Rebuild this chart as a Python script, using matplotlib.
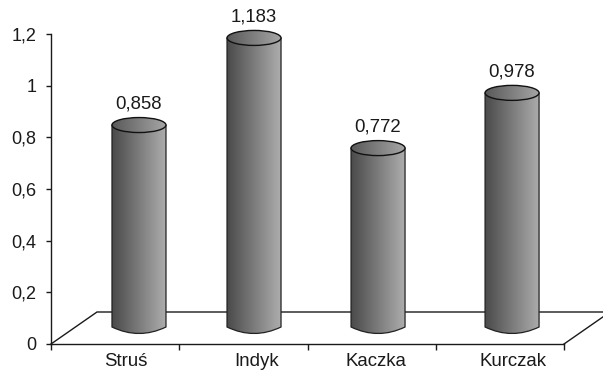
import numpy as np
import matplotlib
matplotlib.use('Agg')
import matplotlib.pyplot as plt
from matplotlib.colors import LinearSegmentedColormap
from matplotlib.patches import Ellipse, PathPatch
from matplotlib.path import Path

# dane wykresu
categories = ['Struś', 'Indyk', 'Kaczka', 'Kurczak']
values = [0.858, 1.183, 0.772, 0.978]
value_labels = ['0,858', '1,183', '0,772', '0,978']
y_ticks = [0, 0.2, 0.4, 0.6, 0.8, 1, 1.2]
y_tick_labels = ['0', '0,2', '0,4', '0,6', '0,8', '1', '1,2']

# rozmieszczenie na osi X (jednostki kategorii)
bar_centers = [0.686, 1.583, 2.55, 3.595]
label_centers = [0.585, 1.606, 2.534, 3.60]

W, H = 603, 371
plt.rcParams['font.family'] = ['Liberation Sans', 'DejaVu Sans']

fig = plt.figure(figsize=(W / 100, H / 100), dpi=100)
left, right, top, bottom = 51, 564, 34, 344
ax = fig.add_axes([left / W, 1 - bottom / H, (right - left) / W, (bottom - top) / H])
ax.patch.set_alpha(0)

line_col = '#1a1a1a'
text_col = '#1a1a1a'
for s in ['top', 'right']:
    ax.spines[s].set_visible(False)
for s in ['left', 'bottom']:
    ax.spines[s].set_color(line_col)
    ax.spines[s].set_linewidth(1.0)

ax.set_yticks(y_ticks)
ax.set_yticklabels(y_tick_labels, fontsize=13, color=text_col)
ax.tick_params(axis='y', length=3.6, width=1, color=line_col, pad=7)
ax.set_xticks(range(5))
ax.set_xticklabels([])
ax.tick_params(axis='x', length=4, width=1, color=line_col)

# piksele na jednostki danych
px_x = 4 / (right - left)
px_y = 1.2 / (bottom - top)

# podloga wykresu 3D
depth_x, depth_y = 46 * px_x, 32 * px_y
ax.plot([0, depth_x, 4 + depth_x], [0, depth_y, depth_y], color=line_col, lw=1,
        clip_on=False, zorder=1, solid_joinstyle='miter')
ax.plot([4, 4 + depth_x], [0, depth_y], color=line_col, lw=1, clip_on=False, zorder=1)

# gradient walca: ciemny z lewej, jasny z prawej
grad = np.linspace(0, 1, 256).reshape(1, -1)
cmap = LinearSegmentedColormap.from_list('walec', ['#4a4a4a', '#adadad'])

half_w = 27 * px_x
lid_h = 15 * px_y
foot = 17 * px_y   # dolny naroznik boku walca
sag = 6.5 * px_y   # wygiecie dolnej krawedzi

# rzut wartosci na plaszczyzne walcow w widoku 3D
proj_scale, proj_offset = 1.0375, -0.0426

for cx, v, txt in zip(bar_centers, values, value_labels):
    t = proj_scale * v + proj_offset
    x0, x1 = cx - half_w, cx + half_w

    # bok walca z lukiem na dole
    verts = [(x0, t), (x0, foot), (cx, foot - 2 * sag), (x1, foot), (x1, t), (x0, t)]
    codes = [Path.MOVETO, Path.LINETO, Path.CURVE3, Path.CURVE3, Path.LINETO, Path.CLOSEPOLY]
    body = PathPatch(Path(verts, codes), transform=ax.transData, fc='none', ec='#222222',
                     lw=0.9, zorder=4, clip_on=False)
    ax.add_patch(body)
    im = ax.imshow(grad, extent=[x0, x1, 0, t], aspect='auto', cmap=cmap, vmin=0, vmax=1, zorder=3)
    im.set_clip_path(body)

    # gorna podstawa walca
    lid = Ellipse((cx, t), 2 * half_w, lid_h, fc='none', ec='none', zorder=5)
    ax.add_patch(lid)
    im2 = ax.imshow(grad, extent=[x0, x1, t - lid_h, t + lid_h], aspect='auto', cmap=cmap,
                    vmin=-0.2, vmax=1.1, zorder=5)
    im2.set_clip_path(lid)
    im2.set_clip_box(fig.bbox)  # gorny walec wychodzi ponad os
    ax.add_patch(Ellipse((cx, t), 2 * half_w, lid_h, fc='none', ec='#111111', lw=1, zorder=6, clip_on=False))

    ax.text(cx, t + lid_h / 2 + 5 * px_y, txt, ha='center', va='bottom', fontsize=13.4,
            color=text_col, clip_on=False)

ax.set_xlim(0, 4)
ax.set_ylim(0, 1.2)

for lx, name in zip(label_centers, categories):
    ax.text(lx, -17 * px_y, name, ha='center', va='center', fontsize=13.4, color=text_col, clip_on=False)

fig.savefig('out.png', dpi=100, facecolor='white')
